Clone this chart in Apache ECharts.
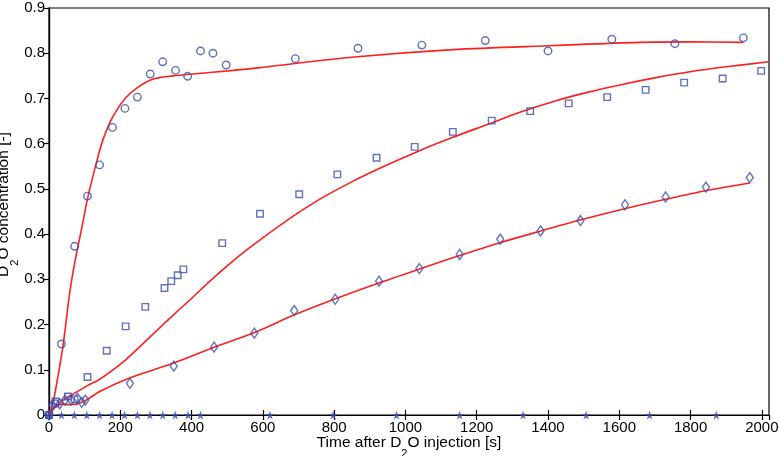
<!DOCTYPE html>
<html><head><meta charset="utf-8">
<script src="https://cdn.jsdelivr.net/npm/echarts@6/dist/echarts.min.js"></script>
<style>html,body{margin:0;padding:0;background:#fff}#c{width:780px;height:456px}</style>
</head><body><div id="c"></div>
<script>
// Measured data (time [s], D2O concentration [-])
const circT = [0,18,35,72,108,142,178,213,248,284,319,355,389,425,460,497,691,867,1046,1224,1400,1579,1756,1948];
const circC = [0,0.025,0.157,0.373,0.484,0.553,0.636,0.678,0.703,0.754,0.781,0.762,0.749,0.805,0.800,0.774,0.788,0.811,0.818,0.828,0.805,0.831,0.821,0.834];
const sqT = [0,18,53,72,108,162,215,270,324,343,361,377,486,592,702,809,919,1026,1133,1242,1350,1458,1566,1674,1782,1890,1998];
const sqC = [0,0.030,0.041,0.035,0.084,0.142,0.196,0.239,0.281,0.296,0.309,0.322,0.380,0.445,0.488,0.532,0.569,0.593,0.626,0.651,0.672,0.689,0.703,0.719,0.735,0.744,0.761];
const diaT = [0,10,30,45,62,80,92,102,227,350,463,576,688,803,926,1039,1152,1266,1379,1491,1616,1730,1843,1966];
const diaC = [0,0.022,0.025,0.033,0.033,0.037,0.028,0.033,0.070,0.108,0.150,0.181,0.231,0.256,0.296,0.324,0.355,0.389,0.407,0.430,0.465,0.482,0.504,0.525];
const starT = [0,35,71,106,142,177,212,248,283,319,354,390,425,620,797,975,1152,1330,1507,1685,1872];
// Model fits
const fastFitT = [0,11,25,39,58,72,91,108,133,152,180,217,255,285,310,340,386,517,600,848,1133,1418,1655,1798,1948];
const fastFitC = [0,0.026,0.085,0.151,0.27,0.336,0.41,0.478,0.558,0.61,0.661,0.703,0.728,0.741,0.746,0.749,0.753,0.762,0.769,0.791,0.808,0.817,0.824,0.825,0.824];
const medFitT = [0,20,45,67,108,140,175,215,260,300,350,400,450,500,563,658,753,848,943,1038,1133,1228,1323,1418,1513,1608,1703,1798,1900,2020];
const medFitC = [0,0.02,0.036,0.046,0.065,0.078,0.097,0.122,0.155,0.185,0.222,0.258,0.295,0.33,0.37,0.425,0.474,0.515,0.551,0.584,0.614,0.642,0.670,0.694,0.714,0.731,0.746,0.759,0.770,0.781];
const slowFitT = [0,15,35,55,77,105,142,226,350,463,575,690,800,925,1040,1150,1265,1380,1490,1615,1730,1842,1966];
const slowFitC = [0,0.018,0.024,0.023,0.024,0.033,0.052,0.082,0.115,0.15,0.182,0.222,0.256,0.292,0.323,0.352,0.381,0.407,0.431,0.456,0.477,0.496,0.513];
const xTicks = [0,200,400,600,800,1000,1200,1400,1600,1800,2000];
const yTicks = ['0','0.1','0.2','0.3','0.4','0.5','0.6','0.7','0.8','0.9'];

const zip = (a,b) => a.map((v,i)=>[v,b[i]]);
const BLUE = '#3a4eb0', RED = '#ff1f1f';
const STAR = 'path://M50,0 L61,35 L98,35 L68,57 L79,91 L50,70 L21,91 L32,57 L2,35 L39,35 Z';
const font = 'Liberation Sans, Arial, Helvetica, sans-serif';

const chart = echarts.init(document.getElementById('c'), null, {renderer:'canvas'});
const hollow = {color:'rgba(0,0,0,0)', borderColor:BLUE, borderWidth:1.4};
const xLab = v => (xTicks.indexOf(v) >= 0 ? String(v) : '');
const yLab = v => { const i = Math.round(v*10); return Math.abs(v*10-i)<1e-6 ? yTicks[i] : ''; };
const rich = {a:{fontSize:15.5, fontFamily:font, color:'#000', lineHeight:16, verticalAlign:'top'}, s:{fontSize:11, fontFamily:font, color:'#000', lineHeight:24, verticalAlign:'bottom'}};
chart.setOption({
  animation:false,
  grid:{left:49, right:11, top:8, bottom:41, show:true, borderColor:'#000', borderWidth:1.2, containLabel:false, outerBoundsMode:'none'},
  xAxis:[{
    type:'value', min:0, max:2020, interval:200, position:'bottom',
    name:'{a|Time after D}{s|2}{a|O injection [s]}', nameLocation:'middle', nameGap:20, nameMoveOverlap:false,
    nameTextStyle:{fontFamily:font, color:'#000', rich:rich},
    axisLine:{show:true, lineStyle:{color:'#000', width:1.2}},
    axisTick:{show:true, inside:true, length:5, lineStyle:{color:'#000', width:1.2}},
    axisLabel:{formatter:xLab, fontSize:15, fontFamily:font, color:'#000', margin:5, showMaxLabel:false},
    splitLine:{show:false}
  },{
    type:'value', min:0, max:2020, interval:200, position:'top',
    axisLine:{show:true, lineStyle:{color:'#000', width:1.2}},
    axisTick:{show:true, inside:true, length:5, lineStyle:{color:'#000', width:1.2}},
    axisLabel:{show:false}, splitLine:{show:false}
  }],
  yAxis:[{
    type:'value', min:0, max:0.9, interval:0.1, position:'left',
    name:'{a|D}{s|2}{a|O concentration [-]}', nameLocation:'middle', nameGap:29, nameRotate:90, nameMoveOverlap:false,
    nameTextStyle:{fontFamily:font, color:'#000', rich:rich, padding:[0,0,0,14]},
    axisLine:{show:true, lineStyle:{color:'#000', width:1.2}},
    axisTick:{show:false},
    axisLabel:{formatter:yLab, fontSize:15, fontFamily:font, color:'#000', margin:4},
    splitLine:{show:false}
  },{
    type:'value', min:0, max:0.9, interval:0.1, position:'right',
    axisLine:{show:true, lineStyle:{color:'#000', width:1.2}},
    axisTick:{show:true, inside:true, length:5, lineStyle:{color:'#000', width:1.2}},
    axisLabel:{show:false}, splitLine:{show:false}
  }],
  series:[
    {type:'line', data:zip(fastFitT,fastFitC), showSymbol:false, smooth:0.3, lineStyle:{color:RED, width:1.6}, z:3, clip:false},
    {type:'line', data:zip(medFitT,medFitC), showSymbol:false, smooth:0.3, lineStyle:{color:RED, width:1.6}, z:3, clip:false},
    {type:'line', data:zip(slowFitT,slowFitC), showSymbol:false, smooth:0.3, lineStyle:{color:RED, width:1.6}, z:3, clip:false},
    {type:'scatter', data:zip(circT,circC), symbol:'circle', symbolSize:7.5, itemStyle:hollow, z:4, clip:false},
    {type:'scatter', data:zip(sqT,sqC), symbol:'rect', symbolSize:6.5, itemStyle:hollow, z:4, clip:false},
    {type:'scatter', data:zip(diaT,diaC), symbol:'diamond', symbolSize:[7,10], itemStyle:hollow, z:4, clip:false},
    {type:'scatter', data:starT.map(t=>[t,0]), symbol:STAR, symbolSize:9, itemStyle:{color:BLUE}, z:5, clip:false}
  ]
});
</script></body></html>
